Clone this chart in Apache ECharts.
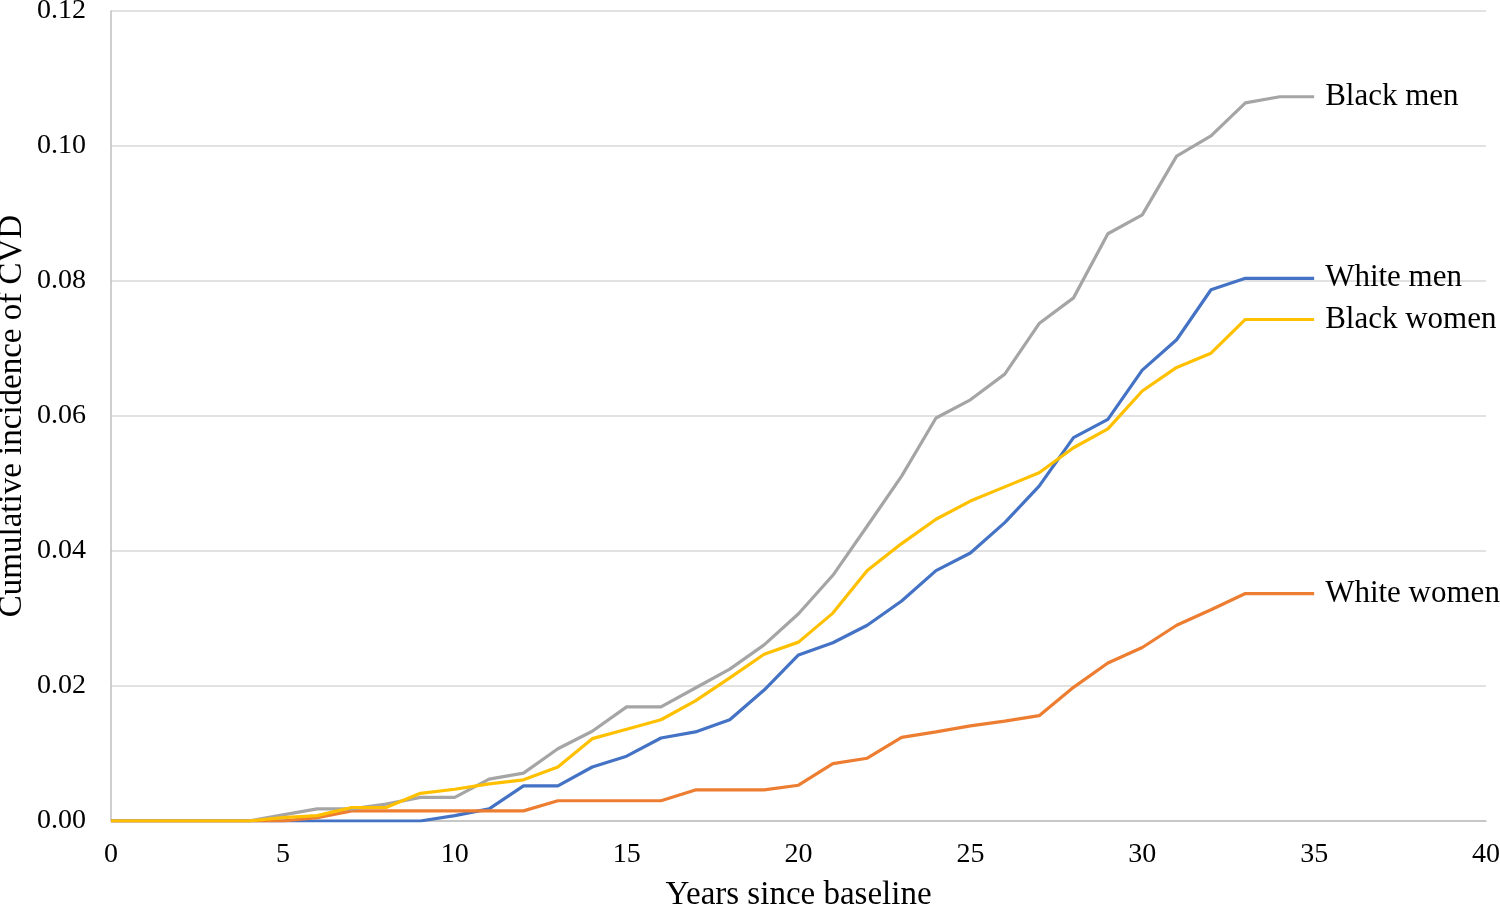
<!DOCTYPE html>
<html>
<head>
<meta charset="utf-8">
<script src="https://cdn.jsdelivr.net/npm/echarts@6/dist/echarts.min.js"></script>
<style>html,body{margin:0;padding:0;background:#fff;}#c{width:1500px;height:907px;}</style>
</head>
<body>
<div id="c"></div>
<script>
const years = [0,1,2,3,4,5,6,7,8,9,10,11,12,13,14,15,16,17,18,19,20,21,22,23,24,25,26,27,28,29,30,31,32,33,34,35];
const whiteMen = [0,0,0,0,0,0,0,0,0,0,0.0008,0.0018,0.0052,0.0052,0.0080,0.0096,0.0123,0.0132,0.0150,0.0194,0.0246,0.0264,0.0290,0.0326,0.0371,0.0397,0.0442,0.0496,0.0568,0.0595,0.0668,0.0713,0.0787,0.0804,0.0804,0.0804];
const whiteWomen = [0,0,0,0,0,0,0.0005,0.0015,0.0015,0.0015,0.0015,0.0015,0.0015,0.0030,0.0030,0.0030,0.0030,0.0046,0.0046,0.0046,0.0053,0.0085,0.0093,0.0124,0.0132,0.0141,0.0148,0.0156,0.0198,0.0234,0.0257,0.0290,0.0313,0.0337,0.0337,0.0337];
const blackMen = [0,0,0,0,0,0.0009,0.0018,0.0018,0.0025,0.0035,0.0035,0.0062,0.0071,0.0107,0.0133,0.0169,0.0169,0.0197,0.0225,0.0261,0.0307,0.0364,0.0437,0.0511,0.0597,0.0624,0.0662,0.0737,0.0775,0.0870,0.0898,0.0985,0.1015,0.1064,0.1073,0.1073];
const blackWomen = [0,0,0,0,0,0.0005,0.0008,0.0020,0.0020,0.0041,0.0047,0.0055,0.0061,0.0080,0.0122,0.0136,0.0150,0.0178,0.0212,0.0247,0.0265,0.0308,0.0371,0.0411,0.0447,0.0474,0.0495,0.0516,0.0553,0.0581,0.0637,0.0672,0.0693,0.0743,0.0743,0.0743];
const seriesNames = ['White men','White women','Black men','Black women'];
const seriesColors = ['#4472C4','#ED7D31','#A5A5A5','#FFC000'];
const seriesValues = [whiteMen, whiteWomen, blackMen, blackWomen];

const font = 'Liberation Serif, Times New Roman, serif';
const chart = echarts.init(document.getElementById('c'));
chart.setOption({
  animation: false,
  backgroundColor: '#fff',
  grid: {left: 111, right: 14, top: 11, bottom: 86, containLabel: false, outerBoundsMode: 'none'},
  xAxis: {
    type: 'value', min: 0, max: 40, interval: 5,
    name: 'Years since baseline', nameLocation: 'middle', nameGap: 58, nameMoveOverlap: false,
    nameTextStyle: {fontFamily: font, fontSize: 33, color: '#000'},
    axisLine: {show: true, lineStyle: {color: '#bfbfbf', width: 1.5}},
    axisTick: {show: false},
    axisLabel: {fontFamily: font, fontSize: 28, color: '#000', margin: 20},
    splitLine: {show: false}
  },
  yAxis: {
    type: 'value', min: 0, max: 0.12, interval: 0.02,
    name: 'Cumulative incidence of CVD', nameLocation: 'middle', nameGap: 82, nameMoveOverlap: false,
    nameTextStyle: {fontFamily: font, fontSize: 33, color: '#000'},
    axisLine: {show: true, lineStyle: {color: '#bfbfbf', width: 1.5}},
    axisTick: {show: false},
    axisLabel: {fontFamily: font, fontSize: 28, color: '#000', margin: 25, formatter: v => v.toFixed(2)},
    splitLine: {show: true, lineStyle: {color: '#d9d9d9', width: 1.5}}
  },
  series: seriesNames.map((n, i) => ({
    name: n, type: 'line', showSymbol: false, symbol: 'none',
    data: years.map((x, j) => [x, seriesValues[i][j]]),
    lineStyle: {color: seriesColors[i], width: 3.2},
    itemStyle: {color: seriesColors[i]},
    endLabel: {show: true, formatter: '{a}', distance: 11, fontFamily: font, fontSize: 31, color: '#000'}
  }))
});
</script>
</body>
</html>
